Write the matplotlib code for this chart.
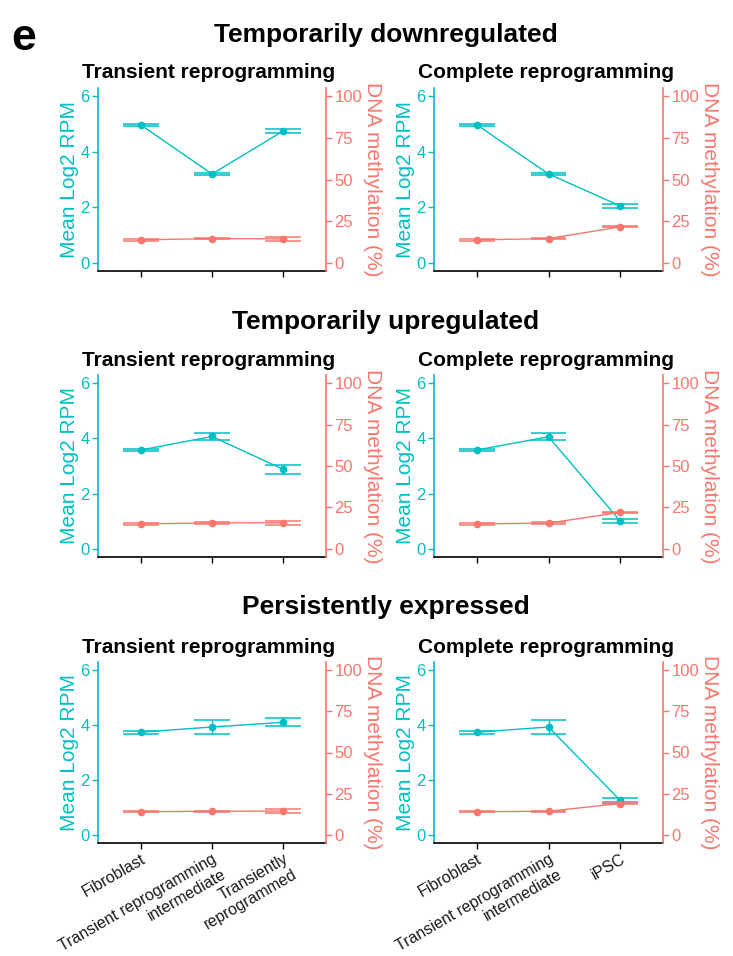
import numpy as np
import matplotlib
matplotlib.use("Agg")
import matplotlib.pyplot as plt

plt.rcParams['font.family'] = ['Liberation Sans', 'DejaVu Sans']

# colours used for expression and methylation
col_expr = '#00BFC4'
col_meth = '#F8766D'

groups = ["Temporarily downregulated", "Temporarily upregulated", "Persistently expressed"]
panel_titles = ["Transient reprogramming", "Complete reprogramming"]
stages_transient = ["Fibroblast", "Transient reprogramming\nintermediate", "Transiently\nreprogrammed"]
stages_complete = ["Fibroblast", "Transient reprogramming\nintermediate", "iPSC"]

# mean log2 RPM (+/- error) per stage
expr_down_tr = [4.97, 3.20, 4.75]
expr_down_tr_err = [0.03, 0.05, 0.07]
expr_down_co = [4.97, 3.20, 2.05]
expr_down_co_err = [0.03, 0.05, 0.06]
expr_up_tr = [3.58, 4.07, 2.88]
expr_up_tr_err = [0.02, 0.12, 0.16]
expr_up_co = [3.58, 4.06, 1.01]
expr_up_co_err = [0.02, 0.12, 0.06]
expr_pers_tr = [3.74, 3.93, 4.10]
expr_pers_tr_err = [0.05, 0.24, 0.14]
expr_pers_co = [3.74, 3.93, 1.26]
expr_pers_co_err = [0.05, 0.24, 0.07]

# DNA methylation (%) per stage
meth_down_tr = [13.7, 14.5, 14.3]
meth_down_tr_err = [0.6, 0.5, 1.1]
meth_down_co = [13.7, 14.5, 21.5]
meth_down_co_err = [0.6, 0.5, 0.3]
meth_up_tr = [15.0, 15.6, 15.7]
meth_up_tr_err = [0.6, 0.4, 1.2]
meth_up_co = [15.0, 15.5, 21.9]
meth_up_co_err = [0.6, 0.4, 0.4]
meth_pers_tr = [14.0, 14.3, 14.4]
meth_pers_tr_err = [0.3, 0.4, 1.0]
meth_pers_co = [14.0, 14.3, 19.0]
meth_pers_co_err = [0.3, 0.4, 0.5]

panels = [
    [(expr_down_tr, expr_down_tr_err, meth_down_tr, meth_down_tr_err),
     (expr_down_co, expr_down_co_err, meth_down_co, meth_down_co_err)],
    [(expr_up_tr, expr_up_tr_err, meth_up_tr, meth_up_tr_err),
     (expr_up_co, expr_up_co_err, meth_up_co, meth_up_co_err)],
    [(expr_pers_tr, expr_pers_tr_err, meth_pers_tr, meth_pers_tr_err),
     (expr_pers_co, expr_pers_co_err, meth_pers_co, meth_pers_co_err)],
]


def errbars(ax, x, y, err, color, width=0.5):
    x = np.asarray(x, float)
    y = np.asarray(y, float)
    err = np.asarray(err, float)
    ax.vlines(x, y - err, y + err, color=color, lw=1)
    for lim in (y - err, y + err):
        ax.hlines(lim, x - width / 2, x + width / 2, color=color, lw=1.1)


def stage_labels(ax, x, labels, size=11.5, angle=30):
    # rotated category labels, one text per line so each line is right-aligned at the tick
    lh = size * 1.12
    s, c = np.sin(np.radians(angle)), np.cos(np.radians(angle))
    for xi, lab in zip(x, labels):
        for k, line in enumerate(lab.split('\n')):
            ax.annotate(line, xy=(xi, 0), xycoords=ax.get_xaxis_transform(),
                        xytext=(k * lh * s, -6 - k * lh * c), textcoords='offset points',
                        rotation=angle, rotation_mode='anchor', ha='right', va='top',
                        fontsize=size, color='#1a1a1a', annotation_clip=False)


fig = plt.figure(figsize=(7.33, 9.56), dpi=100)

lefts = [98 / 733, 434 / 733]
widths = [228 / 733, 229 / 733]
bottoms = [1 - 271 / 956, 1 - 557 / 956, 1 - 843 / 956]
heights = [183 / 956, 182 / 956, 181 / 956]
title_y = [35, 322, 607]

for r in range(3):
    fig.text(386 / 733, 1 - title_y[r] / 956, groups[r], ha='center', va='center',
             fontsize=19, fontweight='bold')
    for c in range(2):
        expr, expr_err, meth, meth_err = panels[r][c]
        x = np.arange(1, 4)
        ax = fig.add_axes([lefts[c], bottoms[r], widths[c], heights[r]])
        ax2 = ax.twinx()

        ax.plot(x, expr, color=col_expr, lw=1, marker='o', ms=4.5, zorder=3)
        errbars(ax, x, expr, expr_err, col_expr)
        ax2.plot(x, meth, color=col_meth, lw=1, marker='o', ms=4.5, zorder=3)
        errbars(ax2, x, meth, meth_err, col_meth)

        ax.set_xlim(0.4, 3.6)
        ax.set_ylim(-0.3, 6.3)
        ax2.set_ylim(-5, 105)
        ax.set_yticks([0, 2, 4, 6])
        ax2.set_yticks([0, 25, 50, 75, 100])

        for a in (ax, ax2):
            a.spines['top'].set_visible(False)
            a.patch.set_visible(False)
        ax.spines['right'].set_visible(False)
        ax2.spines['left'].set_visible(False)
        ax2.spines['bottom'].set_visible(False)
        ax.spines['left'].set_color(col_expr)
        ax2.spines['right'].set_color(col_meth)
        ax.spines['bottom'].set_color('black')
        for s in ('left', 'bottom'):
            ax.spines[s].set_linewidth(1.2)
        ax2.spines['right'].set_linewidth(1.2)

        ax.tick_params(axis='y', colors=col_expr, labelsize=12, length=4, width=1, pad=2)
        ax2.tick_params(axis='y', colors=col_meth, labelsize=12, length=4, width=1, pad=2)
        ax.tick_params(axis='x', colors='black', length=4, width=1, pad=2)

        ax.set_xticks(x)
        ax.set_xticklabels([])
        if r == 2:
            stage_labels(ax, x, stages_transient if c == 0 else stages_complete)

        ax.set_ylabel("Mean Log2 RPM", color=col_expr, fontsize=15, labelpad=1)
        ax2.set_ylabel("DNA methylation (%)", color=col_meth, fontsize=15,
                       rotation=270, labelpad=14)

        ax.text(-0.07, 1.082, panel_titles[c], transform=ax.transAxes,
                ha='left', va='center', fontsize=15, fontweight='bold')

fig.text(11 / 733, 1 - 38 / 956, "e", ha='left', va='center', fontsize=32, fontweight='bold')

fig.savefig("out.png", dpi=100)
